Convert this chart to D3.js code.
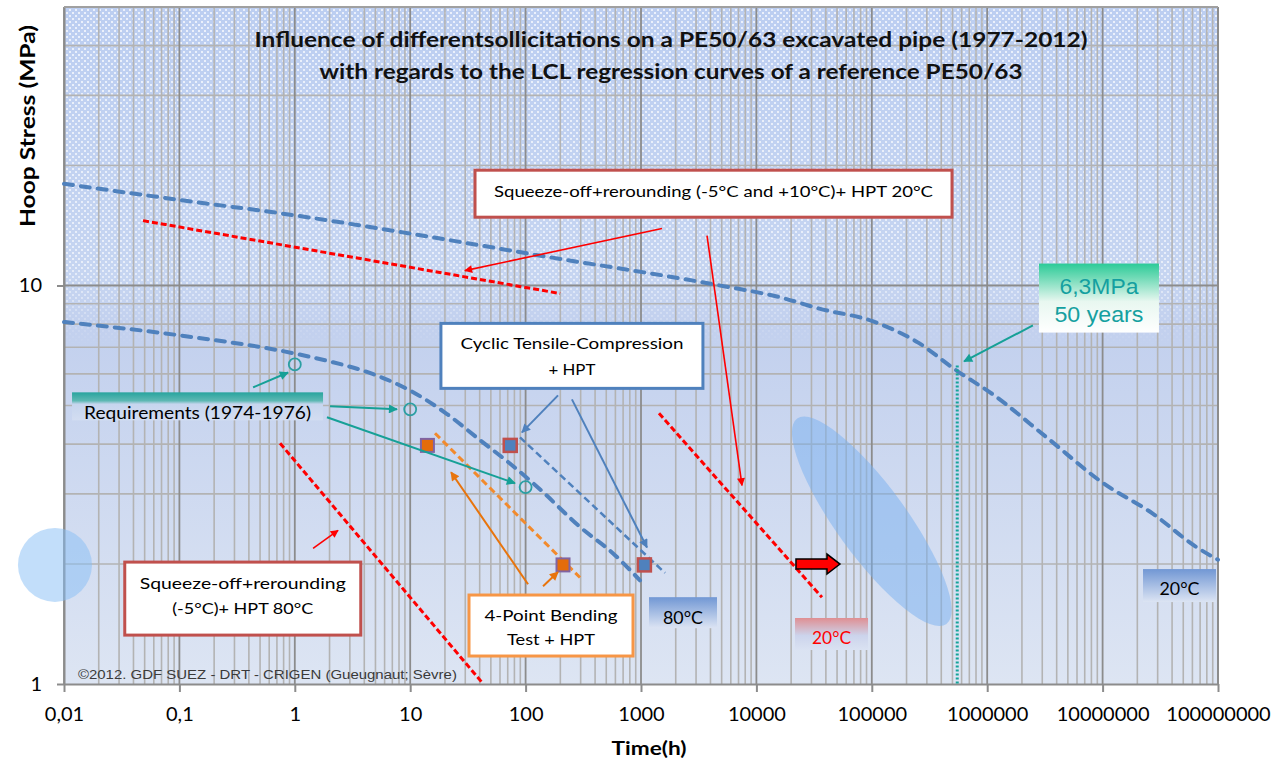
<!DOCTYPE html>
<html>
<head>
<meta charset="utf-8">
<script src="https://cdn.jsdelivr.net/npm/d3@7"></script>
<style>
  body { margin: 0; background: #fff; }
  svg { display: block; font-family: Lato, 'Open Sans', sans-serif; }
</style>
</head>
<body>
<script>
(function () {
  'use strict'

  // ---- data (time in h, stress in MPa) ----
  const xTicks = [0.01, 0.1, 1, 10, 100, 1000, 1e4, 1e5, 1e6, 1e7, 1e8]
  const xTickLabels = ['0,01', '0,1', '1', '10', '100', '1000', '10000', '100000', '1000000', '10000000', '100000000']
  const yTicks = [1, 10]
  const yTickLabels = ['1', '10']

  // LCL regression curves of the reference PE50/63
  const curve20 = [[0.01, 18.0], [0.1, 16.4], [1, 15.0], [10, 13.5], [170, 11.75], [4000, 10.1], [17000, 9.3],
    [35000, 8.75], [1e5, 8.15], [2.5e5, 7.2], [5.5e5, 6.1], [1.1e6, 5.35], [3.3e6, 4.15], [1e7, 3.2],
    [2.7e7, 2.68], [6.6e7, 2.2], [1e8, 2.05]]
  const curve80 = [[0.01, 8.1], [0.1, 7.5], [1, 6.75], [2, 6.45], [4, 6.1], [10, 5.45], [20, 4.8],
    [40, 4.1], [80, 3.5], [130, 3.1], [300, 2.47], [570, 2.13], [980, 1.82]]

  const requirementPts = [[1, 6.34], [10, 4.89], [100, 3.12]]
  const bendingPts = [[14.1, 3.97], [211, 1.99]]
  const cyclicPts = [[73.6, 3.97], [1070, 1.99]]
  const bendingLine = [[16.4, 4.26], [296, 1.85]]
  const cyclicLine = [[89.4, 4.16], [1615, 1.9]]
  const squeeze20Line = [[0.0484, 14.55], [199, 9.55]]
  const squeeze80Line = [[0.745, 4.02], [43, 1.0]]
  const squeeze20bLine = [[1432, 4.78], [37000, 1.65]]
  const fiftyYears = [5.5e5, 6.3]

  // ---- layout ----
  const W = 1277, H = 760
  const margin = {top: 7, right: 59, bottom: 76, left: 64}
  const x = d3.scaleLog().domain([0.01, 1e8]).range([margin.left, W - margin.right])
  const y = d3.scaleLog().domain([1, 50]).range([H - margin.bottom, margin.top])

  const svg = d3.select('body').append('svg')
    .attr('width', W)
    .attr('height', H)
  const defs = svg.append('defs')

  function vGrad(id, stops, y1, y2) {
    const g = defs.append('linearGradient').attr('id', id)
      .attr('x1', 0).attr('x2', 0).attr('y1', 0).attr('y2', 1)
    if (y1 !== undefined) {
      g.attr('gradientUnits', 'userSpaceOnUse').attr('y1', y1).attr('y2', y2)
    }
    stops.forEach(s => g.append('stop').attr('offset', s[0]).attr('stop-color', s[1]).attr('stop-opacity', s[2] === undefined ? 1 : s[2]))
  }

  vGrad('plotBg', [[0, '#bccef1'], [0.4, '#c6d5f1'], [0.47, '#c2d0ee'], [1, '#dde5f3']], margin.top, H - margin.bottom)
  vGrad('dotFade', [[0, '#fff', 0.7], [0.38, '#fff', 0.6], [0.43, '#fff', 0.4], [0.5, '#fff', 0]], margin.top, H - margin.bottom)
  vGrad('reqBg', [[0, '#28a49e'], [0.3, '#5db8b3'], [0.42, '#c6d5ee'], [1, '#d3ddf1']])
  vGrad('mpaBg', [[0, '#2ccb98'], [0.2, '#6fdab6'], [0.55, '#e8f7f0'], [1, '#ffffff']])
  vGrad('blueTag', [[0, '#7197d4'], [1, '#dce4f3']])
  vGrad('redTag', [[0, '#df8f93'], [0.55, '#ccd4ec'], [1, '#dae2f2']])

  const pat = defs.append('pattern').attr('id', 'dots')
    .attr('patternUnits', 'userSpaceOnUse').attr('width', 6).attr('height', 6)
  pat.append('rect').attr('x', 0).attr('y', 0).attr('width', 2).attr('height', 2).attr('fill', '#fff')
  pat.append('rect').attr('x', 3).attr('y', 3).attr('width', 2).attr('height', 2).attr('fill', '#fff')
  const mask = defs.append('mask').attr('id', 'dotMask')
  mask.append('rect').attr('x', 0).attr('y', 0).attr('width', W).attr('height', H).attr('fill', 'url(#dotFade)')

  function marker(id, color, w, h) {
    defs.append('marker').attr('id', id)
      .attr('viewBox', '0 0 10 10').attr('refX', 9).attr('refY', 5)
      .attr('markerUnits', 'userSpaceOnUse').attr('markerWidth', w).attr('markerHeight', h)
      .attr('orient', 'auto')
      .append('path').attr('d', 'M0,0 L10,5 L0,10 z').attr('fill', color)
  }
  marker('headTeal', '#16a097', 12, 9)
  marker('headBlue', '#4f81bd', 12, 9)
  marker('headRed', '#ff0000', 11, 8)
  marker('headOrange', '#e8740c', 12, 9)

  // ---- plot background ----
  const pw = x.range()[1] - x.range()[0]
  const ph = y.range()[0] - y.range()[1]
  svg.append('rect').attr('x', margin.left).attr('y', margin.top).attr('width', pw).attr('height', ph)
    .attr('fill', 'url(#plotBg)')
  svg.append('rect').attr('x', margin.left).attr('y', margin.top).attr('width', pw).attr('height', ph)
    .attr('fill', 'url(#dots)').attr('mask', 'url(#dotMask)')

  // ---- grid ----
  const xMinor = [], yMinor = []
  for (let d = 0.01; d < 1e8; d *= 10) for (let k = 2; k <= 9; k++) xMinor.push(k * d)
  for (let d = 1; d < 50; d *= 10) for (let k = 2; k <= 9; k++) if (k * d <= 50) yMinor.push(k * d)
  const grid = svg.append('g')
  grid.selectAll('.vminor').data(xMinor).enter().append('line')
    .attr('x1', d => x(d)).attr('x2', d => x(d)).attr('y1', y(50)).attr('y2', y(1))
    .attr('stroke', '#b3b3b3').attr('stroke-width', 1.6)
  grid.selectAll('.hminor').data(yMinor).enter().append('line')
    .attr('x1', x(0.01)).attr('x2', x(1e8)).attr('y1', d => y(d)).attr('y2', d => y(d))
    .attr('stroke', '#b3b3b3').attr('stroke-width', 1.6)
  grid.selectAll('.vmajor').data(xTicks).enter().append('line')
    .attr('x1', d => x(d)).attr('x2', d => x(d)).attr('y1', y(50)).attr('y2', y(1))
    .attr('stroke', '#8c8c8c').attr('stroke-width', 1.8)
  grid.selectAll('.hmajor').data([10]).enter().append('line')
    .attr('x1', x(0.01)).attr('x2', x(1e8)).attr('y1', d => y(d)).attr('y2', d => y(d))
    .attr('stroke', '#8c8c8c').attr('stroke-width', 1.8)

  // ---- axes ----
  const font = "Lato, 'Open Sans', sans-serif"
  const xAxis = svg.append('g')
    .attr('transform', `translate(0, ${y(1)})`)
    .call(d3.axisBottom(x).tickValues(xTicks).tickFormat((d, i) => xTickLabels[i]).tickSize(8).tickSizeOuter(0).tickPadding(15))
  const yAxis = svg.append('g')
    .attr('transform', `translate(${x(0.01)}, 0)`)
    .call(d3.axisLeft(y).tickValues(yTicks).tickFormat((d, i) => yTickLabels[i]).tickSize(7).tickSizeOuter(0).tickPadding(15))
  ;[xAxis, yAxis].forEach(a => {
    a.select('.domain').attr('stroke', '#8c8c8c').attr('stroke-width', 2)
    a.selectAll('.tick line').attr('stroke', '#8c8c8c').attr('stroke-width', 2)
    a.selectAll('.tick text').attr('font-family', font).attr('font-size', 20).attr('fill', '#000')
  })
  svg.append('line').attr('x1', x(1e8)).attr('x2', x(1e8)).attr('y1', y(50)).attr('y2', y(1))
    .attr('stroke', '#8c8c8c').attr('stroke-width', 2)
  svg.append('line').attr('x1', x(0.01)).attr('x2', x(1e8)).attr('y1', y(50)).attr('y2', y(50))
    .attr('stroke', '#a0a0a0').attr('stroke-width', 2)

  svg.append('text')
    .attr('transform', `translate(27, ${margin.top + 119}) rotate(-90)`)
    .attr('text-anchor', 'middle').attr('dominant-baseline', 'central')
    .attr('font-size', 20).attr('font-weight', 'bold')
    .attr('textLength', 202).attr('lengthAdjust', 'spacingAndGlyphs')
    .text('Hoop Stress (MPa)')
  svg.append('text')
    .attr('x', x(1000) + 8).attr('y', 755)
    .attr('text-anchor', 'middle')
    .attr('font-size', 19).attr('font-weight', 'bold')
    .attr('textLength', 75).attr('lengthAdjust', 'spacingAndGlyphs')
    .text('Time(h)')

  // ---- title ----
  const title = ['Influence of differentsollicitations on a  PE50/63 excavated pipe (1977-2012)',
    'with regards to the LCL regression curves of a reference PE50/63']
  const titleWidths = [833, 703]
  title.forEach((t, i) => {
    svg.append('text')
      .attr('x', 671).attr('y', 39 + i * 32)
      .attr('text-anchor', 'middle').attr('dominant-baseline', 'central')
      .attr('font-size', 20.5).attr('font-weight', 'bold').attr('fill', '#111')
      .attr('textLength', titleWidths[i]).attr('lengthAdjust', 'spacingAndGlyphs')
      .text(t)
  })

  // ---- shapes behind ----
  svg.append('circle')
    .attr('cx', x(0.00835)).attr('cy', y(1.99)).attr('r', 37)
    .attr('fill', '#86bdf5').attr('opacity', 0.5)
  svg.append('ellipse')
    .attr('transform', `translate(${x(1.0e5)}, ${y(2.56)}) rotate(54)`)
    .attr('rx', 127).attr('ry', 35)
    .attr('fill', '#78aff0').attr('opacity', 0.5)

  // ---- curves ----
  const lineGen = d3.line().x(d => x(d[0])).y(d => y(d[1])).curve(d3.curveMonotoneX)
  function path(data, color, width, dash, cap) {
    svg.append('path').datum(data).attr('d', lineGen)
      .attr('fill', 'none').attr('stroke', color).attr('stroke-width', width)
      .attr('stroke-dasharray', dash).attr('stroke-linecap', cap || 'butt')
  }
  path(curve20, '#4f81bd', 4, '9,8', 'round')
  path(curve80, '#4f81bd', 4, '9,8', 'round')
  path(cyclicLine, '#4f81bd', 2.5, '7,4')
  path(bendingLine, '#f28a2c', 3, '7,4')
  path(squeeze20Line, '#ff0000', 3, '6,3')
  path(squeeze80Line, '#ff0000', 3, '6,3')
  path(squeeze20bLine, '#ff0000', 3, '6,3')

  // 50 years line
  svg.append('line')
    .attr('x1', x(fiftyYears[0])).attr('x2', x(fiftyYears[0]))
    .attr('y1', y(fiftyYears[1])).attr('y2', y(1))
    .attr('stroke', '#16a39a').attr('stroke-width', 3).attr('stroke-dasharray', '2,2')

  // ---- points ----
  svg.selectAll('.req').data(requirementPts).enter().append('circle')
    .attr('cx', d => x(d[0])).attr('cy', d => y(d[1])).attr('r', 6)
    .attr('fill', 'none').attr('stroke', '#2b9fa3').attr('stroke-width', 1.8)
  svg.selectAll('.bend').data(bendingPts).enter().append('rect')
    .attr('x', d => x(d[0]) - 6.5).attr('y', d => y(d[1]) - 6.5).attr('width', 13).attr('height', 13)
    .attr('fill', '#e46c0a').attr('stroke', '#8064a2').attr('stroke-width', 2)
  svg.selectAll('.cyc').data(cyclicPts).enter().append('rect')
    .attr('x', d => x(d[0]) - 6.5).attr('y', d => y(d[1]) - 6.5).attr('width', 13).attr('height', 13)
    .attr('fill', '#4f81bd').attr('stroke', '#c0504d').attr('stroke-width', 2.5)

  // ---- annotation arrows (data coords) ----
  const arrows = [
    {from: [0.435, 5.55], to: [0.873, 6.05], color: '#16a097', w: 2, head: 'headTeal'},
    {from: [2.02, 4.975], to: [7.69, 4.89], color: '#16a097', w: 2, head: 'headTeal'},
    {from: [1.9, 4.67], to: [80.9, 3.19], color: '#16a097', w: 2, head: 'headTeal'},
    {from: [2.49e6, 7.94], to: [6.3e5, 6.45], color: '#16a097', w: 2, head: 'headTeal'},
    {from: [191, 5.3], to: [93, 4.28], color: '#4f81bd', w: 2, head: 'headBlue'},
    {from: [252, 5.18], to: [1127, 2.2], color: '#4f81bd', w: 2, head: 'headBlue'},
    {from: [1521, 13.9], to: [29.8, 10.9], color: '#ff0000', w: 1.6, head: 'headRed'},
    {from: [3733, 13.35], to: [7500, 3.15], color: '#ff0000', w: 1.6, head: 'headRed'},
    {from: [1.44, 2.19], to: [2.37, 2.43], color: '#ff0000', w: 1.6, head: 'headRed'},
    {from: [105, 1.78], to: [22.6, 3.4], color: '#e8740c', w: 2, head: 'headOrange'},
    {from: [141.6, 1.76], to: [191, 1.91], color: '#e8740c', w: 2, head: 'headOrange'}
  ]
  svg.selectAll('.arrow').data(arrows).enter().append('line')
    .attr('x1', d => x(d.from[0])).attr('y1', d => y(d.from[1]))
    .attr('x2', d => x(d.to[0])).attr('y2', d => y(d.to[1]))
    .attr('stroke', d => d.color).attr('stroke-width', d => d.w)
    .attr('marker-end', d => `url(#${d.head})`)

  // red block arrow (shift of the 20°C line)
  const ba = {from: 22030, to: 53000, at: 2.0}
  const bx1 = x(ba.from), bx2 = x(ba.to), by = y(ba.at)
  svg.append('path')
    .attr('d', `M${bx1},${by - 5} L${bx2 - 13},${by - 5} L${bx2 - 13},${by - 10} L${bx2},${by} L${bx2 - 13},${by + 10} L${bx2 - 13},${by + 5} L${bx1},${by + 5} Z`)
    .attr('fill', '#ff0000').attr('stroke', '#000').attr('stroke-width', 1.5)

  // ---- text boxes (anchor = box centre in data coords) ----
  const boxes = [
    {at: [4250, 17], w: 477, h: 47, stroke: '#c0504d', fill: '#fff', size: 16, color: '#000',
      lines: ['Squeeze-off+rerounding (-5°C and +10°C)+ HPT 20°C'], dy: [-3], len: [439]},
    {at: [252, 6.66], w: 262, h: 65, stroke: '#4f81bd', fill: '#fff', size: 16, color: '#000',
      lines: ['Cyclic Tensile-Compression', '+ HPT'], dy: [-13.5, 12.5], len: [223, 47]},
    {at: [0.354, 1.638], w: 236, h: 73, stroke: '#c0504d', fill: '#fff', size: 16, color: '#000',
      lines: ['Squeeze-off+rerounding', '(-5°C)+ HPT 80°C'], dy: [-16.5, 8.5], len: [206, 141]},
    {at: [166, 1.402], w: 164, h: 61, stroke: '#f79646', fill: '#fff', size: 16, color: '#000',
      lines: ['4-Point Bending', 'Test + HPT'], dy: [-11.5, 12.5], len: [133, 88]},
    {at: [0.1436, 4.975], w: 251, h: 28, stroke: 'none', fill: 'url(#reqBg)', size: 17, color: '#000',
      lines: ['Requirements (1974-1976)'], dy: [6], len: [227]},
    {at: [9.3e6, 9.3], w: 120, h: 69, stroke: 'none', fill: 'url(#mpaBg)', size: 22, color: '#14a0a0',
      family: "'Liberation Sans', Arial, sans-serif",
      lines: ['6,3MPa', '50 years'], dy: [-11.5, 16.5], len: [79, 89]},
    {at: [2312, 1.51], w: 68, h: 31, stroke: 'none', fill: 'url(#blueTag)', size: 18, color: '#000',
      lines: ['80°C'], dy: [4.5], len: [40]},
    {at: [44770, 1.335], w: 73, h: 32, stroke: 'none', fill: 'url(#redTag)', size: 18, color: '#ff0000',
      lines: ['20°C'], dy: [3], len: [39]},
    {at: [4.64e7, 1.766], w: 73, h: 33, stroke: 'none', fill: 'url(#blueTag)', size: 18, color: '#000',
      lines: ['20°C'], dy: [2.5], len: [40]}
  ]
  boxes.forEach(b => {
    const g = svg.append('g').attr('transform', `translate(${x(b.at[0])}, ${y(b.at[1])})`)
    g.append('rect')
      .attr('x', -b.w / 2).attr('y', -b.h / 2).attr('width', b.w).attr('height', b.h)
      .attr('fill', b.fill).attr('stroke', b.stroke).attr('stroke-width', 3)
    b.lines.forEach((t, i) => {
      g.append('text')
        .attr('x', 0).attr('y', b.dy[i])
        .attr('text-anchor', 'middle').attr('dominant-baseline', 'central')
        .attr('font-family', b.family || font).attr('font-size', b.size).attr('fill', b.color)
        .attr('textLength', b.len[i]).attr('lengthAdjust', 'spacingAndGlyphs')
        .text(t)
    })
  })

  // copyright
  svg.append('text')
    .attr('x', x(0.0132)).attr('y', 679)
    .attr('font-family', "'Liberation Sans', Arial, sans-serif").attr('font-size', 13).attr('fill', '#3a3a3a')
    .attr('textLength', 379).attr('lengthAdjust', 'spacingAndGlyphs')
    .text('©2012. GDF SUEZ - DRT - CRIGEN  (Gueugnaut; Sèvre)')
})()
</script>
</body>
</html>
